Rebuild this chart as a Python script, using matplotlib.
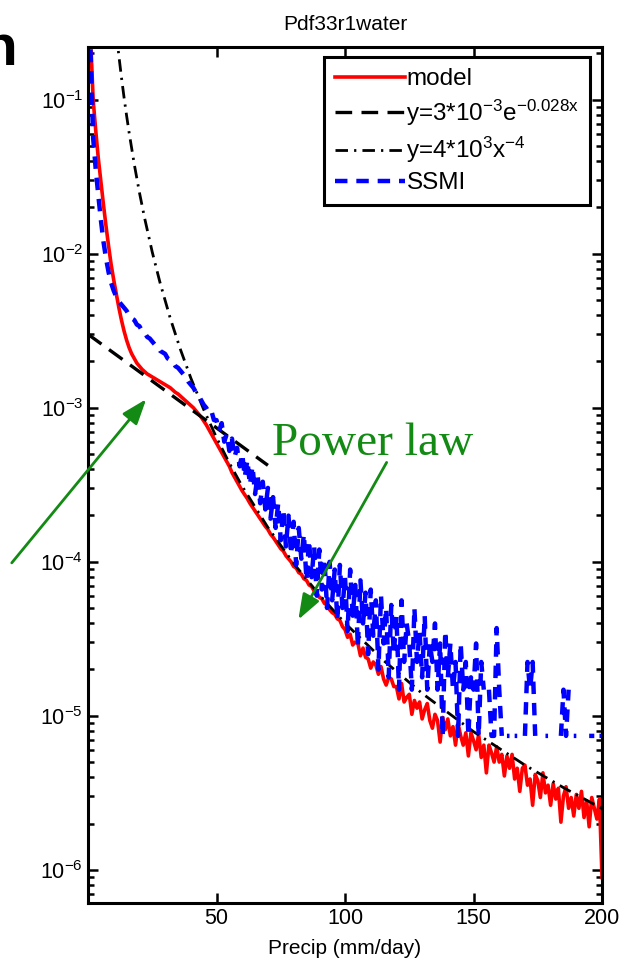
import numpy as np
import matplotlib.pyplot as plt

plt.rcParams['font.family'] = ['Liberation Sans', 'DejaVu Sans']
plt.rcParams['mathtext.default'] = 'regular'

# precip bins (mm/day)
precip = np.arange(0, 201)

# model pdf, log10 of value per 1 mm/day bin
model_log = [
    -0.30, -0.60, -1.00, -1.20, -1.38, -1.53, -1.68, -1.82, -1.95, -2.07,
    -2.17, -2.26, -2.35, -2.43, -2.50, -2.56, -2.61, -2.65, -2.68, -2.71,
    -2.73, -2.75, -2.765, -2.78, -2.79, -2.80, -2.81, -2.82, -2.83, -2.84,
    -2.85, -2.86, -2.87, -2.885, -2.90, -2.91, -2.925, -2.94, -2.955, -2.97,
    -2.985, -3.00, -3.02, -3.04, -3.06, -3.085, -3.11, -3.14, -3.17, -3.20,
    -3.23, -3.26, -3.29, -3.32, -3.35, -3.38, -3.42, -3.45, -3.48, -3.51,
    -3.54, -3.565, -3.59, -3.62, -3.645, -3.67, -3.695, -3.72, -3.745, -3.77,
    -3.79, -3.82, -3.84, -3.865, -3.89, -3.915, -3.93, -3.96, -3.98, -4.00,
    -4.03, -4.04, -4.07, -4.08, -4.11, -4.12, -4.15, -4.16, -4.19, -4.20,
    -4.23, -4.24, -4.27, -4.28, -4.31, -4.33, -4.34, -4.37, -4.38, -4.42,
    -4.44, -4.49, -4.47, -4.54, -4.52, -4.53, -4.61, -4.56, -4.62, -4.63,
    -4.69, -4.65, -4.67, -4.73, -4.68, -4.76, -4.80, -4.75, -4.76, -4.81,
    -4.81, -4.89, -4.79, -4.91, -4.88, -4.86, -4.99, -4.90, -4.95, -4.91,
    -5.02, -4.96, -4.92, -5.03, -5.08, -4.99, -5.03, -5.17, -5.01, -5.09,
    -5.02, -5.13, -5.07, -5.19, -5.05, -5.13, -5.19, -5.11, -5.26, -5.11,
    -5.16, -5.22, -5.12, -5.27, -5.19, -5.37, -5.19, -5.24, -5.30, -5.20,
    -5.30, -5.25, -5.39, -5.26, -5.34, -5.25, -5.41, -5.34, -5.49, -5.34,
    -5.32, -5.45, -5.41, -5.58, -5.38, -5.42, -5.53, -5.37, -5.50, -5.45,
    -5.58, -5.44, -5.54, -5.47, -5.69, -5.52, -5.46, -5.60, -5.53, -5.65,
    -5.51, -5.60, -5.49, -5.66, -5.55, -5.72, -5.53, -5.60, -5.67, -5.54,
    -6.05,
]

# SSMI pdf, log10 per bin (nan = empty bin)
nan = np.nan
ssmi_log = [
    -0.40, -0.70, -1.25, -1.45, -1.62, -1.78, -1.92, -2.03, -2.12, -2.19,
    -2.24, -2.28, -2.31, -2.33, -2.35, -2.37, -2.40, -2.42, -2.43, -2.46,
    -2.47, -2.50, -2.51, -2.54, -2.55, -2.57, -2.59, -2.60, -2.63, -2.64,
    -2.65, -2.68, -2.69, -2.70, -2.73, -2.74, -2.76, -2.78, -2.80, -2.83,
    -2.85, -2.87, -2.90, -2.92, -2.95, -2.98, -3.00, -3.03, -3.02, -3.08,
    -3.08, -3.15, -3.10, -3.22, -3.17, -3.28, -3.20, -3.32, -3.26, -3.38,
    -3.30, -3.45, -3.34, -3.50, -3.38, -3.56, -3.44, -3.62, -3.48, -3.66,
    -3.52, -3.72, -3.58, -3.78, -3.62, -3.86, -3.66, -3.90, -3.70, -3.95,
    -3.74, -4.02, -3.78, -3.98, -3.82, -4.12, -3.86, -4.10, -3.90, -4.22,
    -3.92, -4.18, -3.98, -4.30, -4.00, -4.25, -4.05, -4.38, -4.02, -4.30,
    -4.10, -4.45, -4.05, -4.35, -4.15, -4.55, -4.12, -4.40, -4.20, -4.60,
    -4.18, -4.48, -4.25, -4.70, -4.22, -4.53, -4.30, -4.75, -4.28, -4.60,
    -4.35, -4.83, -4.25, -4.65, -4.40, -4.53, -4.83, -4.30, -4.65, -4.45,
    -4.75, -4.35, -4.83, -4.53, -4.65, -4.40, -4.83, -4.53, -5.13, -4.45,
    -4.75, -4.53, -4.83, -4.65, -5.13, -4.53, -4.83, -4.65, -5.13, -4.75,
    -4.83, -4.53, -5.13, -4.65, -4.83, nan, -4.83, -5.13, -5.13, -4.43,
    -4.83, -5.13, nan, -5.13, -5.13, nan, -5.13, -5.13, nan, nan,
    -5.13, -4.65, -4.83, -4.65, -5.13, nan, -5.13, nan, -5.13, -5.13,
    nan, -5.13, nan, nan, -5.13, -4.83, -5.13, -4.83, nan, -5.13,
    -5.13, nan, nan, -5.13, nan, -5.13, -5.13, -5.13, nan, -5.13,
    -5.13,
]

# fitted exponential, y = 3e-3 exp(-0.028 x)
exp_x = [0, 70]
exp_y = [3.0e-3, 4.23e-4]

# fitted power law, y = 4e3 x^-4
pow_x = [11, 12, 13, 14, 15, 16, 18, 20, 22, 25, 28, 32, 36, 40, 45, 50,
         55, 60, 70, 80, 90, 100, 115, 130, 150, 170, 185, 200]
pow_y = [0.273, 0.193, 0.140, 0.104, 0.079, 0.061, 0.0381, 0.025, 0.0171,
         0.01024, 0.00651, 0.00381, 0.00238, 0.00156, 9.75e-4, 6.4e-4,
         4.37e-4, 3.09e-4, 1.67e-4, 9.77e-5, 6.1e-5, 4.0e-5, 2.29e-5,
         1.4e-5, 7.9e-6, 4.79e-6, 3.42e-6, 2.5e-6]

fig = plt.figure(figsize=(6.26, 9.64), dpi=100)
ax = fig.add_axes([0.1406, 0.0633, 0.8211, 0.888])

ax.semilogy(precip, 10 ** np.array(model_log), color='red', lw=2.6, label='model')
ax.semilogy(exp_x, exp_y, color='black', lw=2.4, dashes=(5, 2.8),
            label='y=3*10$^{-3}$e$^{-0.028x}$')
ax.semilogy(pow_x, pow_y, color='black', lw=2.0, dashes=(4.5, 2.2, 0.8, 2.2),
            label='y=4*10$^3$x$^{-4}$')
ax.semilogy(precip, 10 ** np.array(ssmi_log), color='blue', lw=3.2,
            dashes=(2.8, 2.0), label='SSMI')

ax.set_xlim(0, 200)
ax.set_ylim(6.1e-7, 0.22)
ax.set_xticks([50, 100, 150, 200])
ax.tick_params(which='both', direction='in', top=True, right=True,
               labelsize=15.5, width=1.8)
ax.tick_params(which='major', length=7)
ax.tick_params(which='minor', length=4)
for s in ax.spines.values():
    s.set_linewidth(2.2)

ax.set_title('Pdf33r1water', fontsize=15, pad=12)
ax.set_xlabel('Precip (mm/day)', fontsize=15, labelpad=7)

leg = ax.legend(loc='upper right', bbox_to_anchor=(0.977, 0.988),
                borderaxespad=0, fontsize=17.5, handlelength=2.9,
                handletextpad=0.05, labelspacing=0.3, borderpad=0.45,
                fancybox=False, framealpha=1, edgecolor='black')
leg.get_frame().set_linewidth(2.2)

# green annotations
green = '#138a13'
fig.text(272 / 626, 1 - 455 / 964, 'Power law', color=green, fontsize=34,
         family=['Liberation Serif', 'DejaVu Serif'])
arrow = dict(arrowstyle='-|>,head_length=1.1,head_width=0.4',
             color=green, lw=2, mutation_scale=14)
ax.annotate('', xy=(148, 964 - 397), xycoords='figure pixels',
            xytext=(10, 964 - 565), textcoords='figure pixels',
            arrowprops=arrow, annotation_clip=False)
ax.annotate('', xy=(297, 964 - 622), xycoords='figure pixels',
            xytext=(388, 964 - 460), textcoords='figure pixels',
            arrowprops=arrow, annotation_clip=False)

# cut-off letter from the slide
fig.text(-0.028, 1 - 65 / 964, 'n', fontsize=42, fontweight='bold')

fig.savefig('out.png', dpi=100)
